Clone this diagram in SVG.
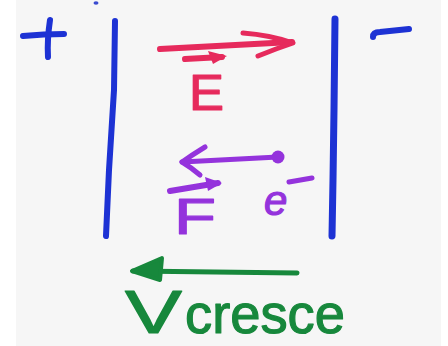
<svg xmlns="http://www.w3.org/2000/svg" width="448" height="346" viewBox="0 0 448 346">
<style>
.ink{fill:none;stroke-linecap:round;stroke-linejoin:round}
.blue{stroke:#1d32d4}
.red{stroke:#e62a5c}
.purple{stroke:#9433dc}
.green{stroke:#17883c}
.lbl{font-family:"Liberation Sans",Arial,sans-serif;stroke-width:1.2;stroke-linejoin:round}
</style>
<rect x="0" y="0" width="448" height="346" fill="#ffffff"/>
<rect x="16" y="0" width="425" height="346" fill="#f6f6f6"/>
<g id="plus">
  <ellipse cx="96" cy="3" rx="2.5" ry="1.8" fill="#3a4bd0"/>
  <path class="ink blue" stroke-width="6" d="M23,36 Q44,34 64,34"/>
  <path class="ink blue" stroke-width="6" d="M50,20 Q47,40 48,57"/>
</g>
<g id="plate-left">
  <path class="ink blue" stroke-width="6" d="M115,21 L114,90 L109,170 L106,236"/>
</g>
<g id="plate-right">
  <path class="ink blue" stroke-width="7" d="M335,19 L334,110 L333,180 L332,236"/>
</g>
<g id="minus">
  <path class="ink blue" stroke-width="6" d="M373,37 Q373,32 380,32 L409,29"/>
</g>
<g id="field-E">
  <path class="ink red" stroke-width="6" d="M160,49 L292,42"/>
  <path class="ink red" stroke-width="5" d="M243,33 Q270,35 293,43 Q275,49 258,56"/>
  <path class="ink red" stroke-width="6" d="M185,59 L222,57"/>
  <path fill="#e62a5c" d="M208,51 L227,56 L213,64 Z"/>
  <text class="lbl" x="189" y="110" font-size="50" fill="#e62a5c" stroke="#e62a5c" textLength="35" lengthAdjust="spacingAndGlyphs">E</text>
</g>
<g id="force-F">
  <path class="ink purple" stroke-width="5" d="M182,162 L278,157"/>
  <path class="ink purple" stroke-width="5" d="M205,147 Q192,155 182,162 Q192,168 200,175"/>
  <circle cx="278" cy="157" r="6.5" fill="#9433dc"/>
  <path class="ink purple" stroke-width="6" d="M170,191 L218,183"/>
  <path fill="#9433dc" d="M205,177 L222,183 L208,191 Z"/>
  <text class="lbl" x="174" y="234" font-size="50" fill="#9433dc" stroke="#9433dc" textLength="42" lengthAdjust="spacingAndGlyphs">F</text>
</g>
<g id="electron">
  <text class="lbl" x="264" y="215" font-size="42" font-style="italic" fill="#9433dc" stroke="#9433dc">e</text>
  <path class="ink purple" stroke-width="5" d="M289,182 L312,178"/>
</g>
<g id="connectors">
  <path class="ink green" stroke-width="5" d="M297,273 L133,271"/>
  <path fill="#17883c" stroke="#17883c" stroke-width="4" stroke-linejoin="round" d="M162,258 L132,271 L160,280 Z"/>
</g>
<g id="v-cresce">
  <text class="lbl" x="125" y="333" font-size="62" fill="#17883c" stroke="#17883c" textLength="57" lengthAdjust="spacingAndGlyphs">V</text>
  <text class="lbl" x="185" y="333" font-size="55" fill="#17883c" stroke="#17883c" textLength="160" lengthAdjust="spacingAndGlyphs">cresce</text>
</g>
</svg>
